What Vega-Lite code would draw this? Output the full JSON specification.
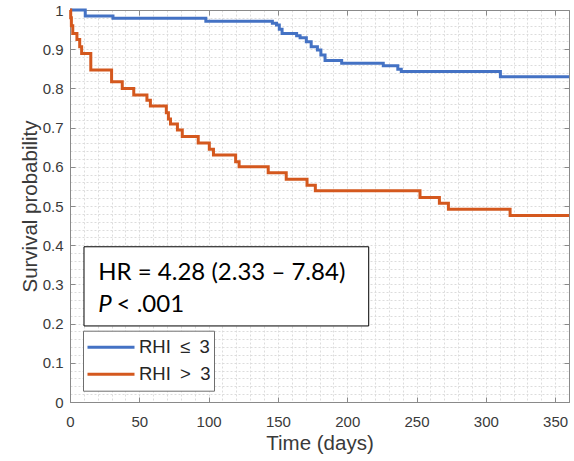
{
  "$schema": "https://vega.github.io/schema/vega-lite/v6.json",
  "width": 499,
  "height": 392,
  "autosize": {"type": "none"},
  "padding": {"left": 70, "top": 10, "right": 5, "bottom": 59},
  "background": "white",
  "config": {"view": {"stroke": "#8a8a8a", "strokeWidth": 1}, "font": "Liberation Sans"},
  "layer": [
    {
      "data": {"values": [
        {"group": "RHI ≤ 3", "time": 0, "surv": 1},
        {"group": "RHI ≤ 3", "time": 11, "surv": 0.985},
        {"group": "RHI ≤ 3", "time": 31, "surv": 0.979},
        {"group": "RHI ≤ 3", "time": 98, "surv": 0.971},
        {"group": "RHI ≤ 3", "time": 146, "surv": 0.966},
        {"group": "RHI ≤ 3", "time": 149, "surv": 0.962},
        {"group": "RHI ≤ 3", "time": 151, "surv": 0.951},
        {"group": "RHI ≤ 3", "time": 153, "surv": 0.94},
        {"group": "RHI ≤ 3", "time": 163.5, "surv": 0.934},
        {"group": "RHI ≤ 3", "time": 166, "surv": 0.929},
        {"group": "RHI ≤ 3", "time": 170.5, "surv": 0.919},
        {"group": "RHI ≤ 3", "time": 174, "surv": 0.906},
        {"group": "RHI ≤ 3", "time": 178.5, "surv": 0.898},
        {"group": "RHI ≤ 3", "time": 181, "surv": 0.885},
        {"group": "RHI ≤ 3", "time": 184, "surv": 0.871},
        {"group": "RHI ≤ 3", "time": 196, "surv": 0.864},
        {"group": "RHI ≤ 3", "time": 226, "surv": 0.858},
        {"group": "RHI ≤ 3", "time": 236.5, "surv": 0.849},
        {"group": "RHI ≤ 3", "time": 239, "surv": 0.843},
        {"group": "RHI ≤ 3", "time": 310.5, "surv": 0.83},
        {"group": "RHI ≤ 3", "time": 360, "surv": 0.83},
        {"group": "RHI > 3", "time": 0, "surv": 1},
        {"group": "RHI > 3", "time": 0.5, "surv": 0.98},
        {"group": "RHI > 3", "time": 1, "surv": 0.96},
        {"group": "RHI > 3", "time": 2, "surv": 0.94},
        {"group": "RHI > 3", "time": 5, "surv": 0.925},
        {"group": "RHI > 3", "time": 7, "surv": 0.906},
        {"group": "RHI > 3", "time": 8.4, "surv": 0.889},
        {"group": "RHI > 3", "time": 15, "surv": 0.847},
        {"group": "RHI > 3", "time": 30, "surv": 0.817},
        {"group": "RHI > 3", "time": 37.7, "surv": 0.8},
        {"group": "RHI > 3", "time": 46, "surv": 0.783},
        {"group": "RHI > 3", "time": 55.5, "surv": 0.77},
        {"group": "RHI > 3", "time": 58, "surv": 0.755},
        {"group": "RHI > 3", "time": 69.5, "surv": 0.738},
        {"group": "RHI > 3", "time": 71, "surv": 0.722},
        {"group": "RHI > 3", "time": 72.5, "surv": 0.709},
        {"group": "RHI > 3", "time": 77.5, "surv": 0.694},
        {"group": "RHI > 3", "time": 81, "surv": 0.677},
        {"group": "RHI > 3", "time": 92.5, "surv": 0.661},
        {"group": "RHI > 3", "time": 100.5, "surv": 0.645},
        {"group": "RHI > 3", "time": 103.5, "surv": 0.63},
        {"group": "RHI > 3", "time": 119.5, "surv": 0.613},
        {"group": "RHI > 3", "time": 122, "surv": 0.6},
        {"group": "RHI > 3", "time": 143, "surv": 0.585},
        {"group": "RHI > 3", "time": 156, "surv": 0.568},
        {"group": "RHI > 3", "time": 171, "surv": 0.553},
        {"group": "RHI > 3", "time": 177, "surv": 0.539},
        {"group": "RHI > 3", "time": 252.5, "surv": 0.522},
        {"group": "RHI > 3", "time": 266.5, "surv": 0.507},
        {"group": "RHI > 3", "time": 273, "surv": 0.492},
        {"group": "RHI > 3", "time": 317.5, "surv": 0.476},
        {"group": "RHI > 3", "time": 360, "surv": 0.476}
      ]},
      "mark": {"type": "line", "interpolate": "step-after", "strokeWidth": 3},
      "encoding": {
        "x": {
          "field": "time", "type": "quantitative",
          "scale": {"domain": [0, 360], "nice": false},
          "axis": {
            "orient": "bottom", "title": "Time (days)",
            "values": [0,10,20,30,40,50,60,70,80,90,100,110,120,130,140,150,160,170,180,190,200,210,220,230,240,250,260,270,280,290,300,310,320,330,340,350,360],
            "grid": true, "gridDash": [2, 2], "gridColor": "#dcdcdc", "gridWidth": 1,
            "domainColor": "#8a8a8a", "tickColor": "#8a8a8a", "tickSize": -5,
            "tickOpacity": {"condition": {"test": "datum.value % 50 === 0", "value": 1}, "value": 0},
            "labelExpr": "datum.value % 50 === 0 ? format(datum.value, 'd') : ''",
            "labelOverlap": false, "labelFlush": false, "labelFontSize": 15, "labelColor": "#3a3a3a", "labelPadding": 17,
            "titleFontSize": 20.5, "titleFontWeight": "normal", "titleColor": "#3a3a3a",
            "titleX": 249.5, "titleY": 47.5, "titleBaseline": "alphabetic", "titleAlign": "center"
          }
        },
        "y": {
          "field": "surv", "type": "quantitative",
          "scale": {"domain": [0, 1], "nice": false},
          "axis": {
            "orient": "left", "title": "Survival probability",
            "values": [0,0.02,0.04,0.06,0.08,0.1,0.12,0.14,0.16,0.18,0.2,0.22,0.24,0.26,0.28,0.3,0.32,0.34,0.36,0.38,0.4,0.42,0.44,0.46,0.48,0.5,0.52,0.54,0.56,0.58,0.6,0.62,0.64,0.66,0.68,0.7,0.72,0.74,0.76,0.78,0.8,0.82,0.84,0.86,0.88,0.9,0.92,0.94,0.96,0.98,1],
            "grid": true, "gridDash": [2, 2], "gridColor": "#dcdcdc", "gridWidth": 1,
            "domainColor": "#8a8a8a", "tickColor": "#8a8a8a", "tickSize": -5,
            "tickOpacity": {"condition": {"test": "abs(datum.value*10 - round(datum.value*10)) < 0.001", "value": 1}, "value": 0},
            "labelExpr": "abs(datum.value*10 - round(datum.value*10)) < 0.001 ? format(datum.value, '~g') : ''",
            "labelOverlap": false, "labelFlush": false, "labelFontSize": 15, "labelColor": "#3a3a3a", "labelPadding": 12,
            "titleFontSize": 20.5, "titleFontWeight": "normal", "titleColor": "#3a3a3a",
            "titleX": -33.3, "titleY": 196, "titleAngle": 270, "titleBaseline": "alphabetic", "titleAlign": "center"
          }
        },
        "color": {
          "field": "group", "type": "nominal",
          "scale": {"domain": ["RHI ≤ 3", "RHI > 3"], "range": ["#4472C4", "#D4581E"]},
          "legend": {
            "orient": "none", "legendX": 13, "legendY": 320.7, "direction": "vertical", "title": null,
            "symbolType": "stroke", "symbolSize": 2209, "symbolStrokeWidth": 3, "clipHeight": 27,
            "padding": 3, "rowPadding": 0, "labelOffset": 3, "labelFontSize": 18.5, "labelFont": "Liberation Sans",
            "labelColor": "#262626", "strokeColor": "#6e6e6e", "fillColor": "white",
            "labelExpr": "replace(replace(datum.label, ' ', '\u2002'), ' ', '\u2002')"
          }
        }
      }
    },
    {
      "data": {"values": [{"box": "stats"}]},
      "mark": {"type": "rect", "fill": "white", "stroke": "black", "strokeWidth": 1},
      "encoding": {
        "x": {"datum": 10.1, "type": "quantitative",
          "axis": {"orient": "top", "title": null, "values": [0,50,100,150,200,250,300,350], "labels": false, "grid": false,
            "domainColor": "#8a8a8a", "tickColor": "#8a8a8a", "tickSize": -5}},
        "x2": {"datum": 215.5},
        "y": {"datum": 0.396, "type": "quantitative",
          "axis": {"orient": "right", "title": null, "values": [0,0.1,0.2,0.3,0.4,0.5,0.6,0.7,0.8,0.9,1], "labels": false, "grid": false,
            "domainColor": "#8a8a8a", "tickColor": "#8a8a8a", "tickSize": -5}},
        "y2": {"datum": 0.194}
      }
    },
    {
      "data": {"values": [{"hr": "HR = 4.28 (2.33 – 7.84)", "p": "P", "pv": "< .001"}]},
      "layer": [
        {
          "mark": {"type": "text", "font": "Lato", "fontSize": 24, "align": "left", "baseline": "alphabetic", "color": "black"},
          "encoding": {
            "x": {"datum": 20.4, "type": "quantitative", "axis": null},
            "y": {"datum": 0.311, "type": "quantitative", "axis": null},
            "text": {"field": "hr"}
          }
        },
        {
          "mark": {"type": "text", "font": "Lato", "fontSize": 24, "fontStyle": "italic", "align": "left", "baseline": "alphabetic", "color": "black"},
          "encoding": {
            "x": {"datum": 20.4, "type": "quantitative", "axis": null},
            "y": {"datum": 0.23, "type": "quantitative", "axis": null},
            "text": {"field": "p"}
          }
        },
        {
          "mark": {"type": "text", "font": "Lato", "fontSize": 24, "align": "left", "baseline": "alphabetic", "color": "black"},
          "encoding": {
            "x": {"datum": 33.6, "type": "quantitative", "axis": null},
            "y": {"datum": 0.23, "type": "quantitative", "axis": null},
            "text": {"field": "pv"}
          }
        }
      ]
    }
  ]
}
